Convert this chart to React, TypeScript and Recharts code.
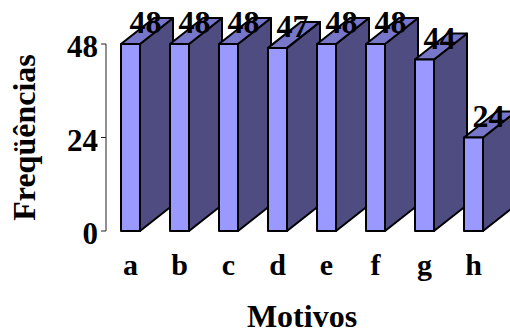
import { BarChart, Bar, XAxis, YAxis, LabelList } from "recharts";

const motivos = ["a", "b", "c", "d", "e", "f", "g", "h"];
const frequencias = [48, 48, 48, 47, 48, 48, 44, 24];
const yTicks = [0, 24, 48];

const data = motivos.map((motivo, i) => ({ motivo, frequencia: frequencias[i] }));

const serif = "'Liberation Serif', 'Times New Roman', serif";

const DEPTH_X = 33;
const DEPTH_Y = 26;

// Recharts has no 3D bars, so each column adds its top and side faces to the front
function Bar3D(props: any) {
  const { x, y, width, height } = props;
  const right = x + width;
  const bottom = y + height;
  const edge = { stroke: "#000", strokeWidth: 2, strokeLinejoin: "round" as const };
  return (
    <g>
      <polygon
        points={`${right},${y} ${right + DEPTH_X},${y - DEPTH_Y} ${right + DEPTH_X},${bottom - DEPTH_Y} ${right},${bottom}`}
        fill="#4e4c80"
        {...edge}
      />
      <polygon
        points={`${x},${y} ${x + DEPTH_X},${y - DEPTH_Y} ${right + DEPTH_X},${y - DEPTH_Y} ${right},${y}`}
        fill="#7876c8"
        {...edge}
      />
      <rect x={x} y={y} width={width} height={height} fill="#9999ff" {...edge} />
    </g>
  );
}

export default function App() {
  return (
    <div style={{ position: "absolute", left: 0, top: 0, width: 510, height: 335, overflow: "hidden", background: "#fff" }}>
      <BarChart
        width={510}
        height={335}
        data={data}
        margin={{ top: 44, right: 12, bottom: 0, left: 0 }}
        barCategoryGap={0}
      >
        <XAxis
          dataKey="motivo"
          height={104}
          axisLine={false}
          tickLine={false}
          tickMargin={17}
          tick={{ fontFamily: serif, fontSize: 30, fontWeight: "bold", fill: "#000" }}
          label={{
            value: "Motivos",
            position: "insideBottom",
            offset: 8,
            style: { fontFamily: serif, fontSize: 32, fontWeight: "bold", fill: "#000" },
          }}
        />
        <YAxis
          width={106}
          domain={[0, 48]}
          ticks={yTicks}
          interval={0}
          axisLine={{ stroke: "#222", strokeWidth: 1 }}
          tickLine={{ stroke: "#222", strokeWidth: 1 }}
          tickSize={5}
          tickMargin={3}
          tick={{ fontFamily: serif, fontSize: 31, fontWeight: "bold", fill: "#000", dy: 2 }}
          label={{
            value: "Freqüências",
            angle: -90,
            position: "insideLeft",
            offset: 24,
            style: { fontFamily: serif, fontSize: 32, fontWeight: "bold", fill: "#000", textAnchor: "middle" },
          }}
        />
        <Bar dataKey="frequencia" barSize={19} shape={<Bar3D />} isAnimationActive={false}>
          <LabelList
            dataKey="frequencia"
            position="top"
            offset={11}
            dx={15}
            style={{ fontFamily: serif, fontSize: 32, fontWeight: "bold", fill: "#000" }}
          />
        </Bar>
      </BarChart>
    </div>
  );
}
